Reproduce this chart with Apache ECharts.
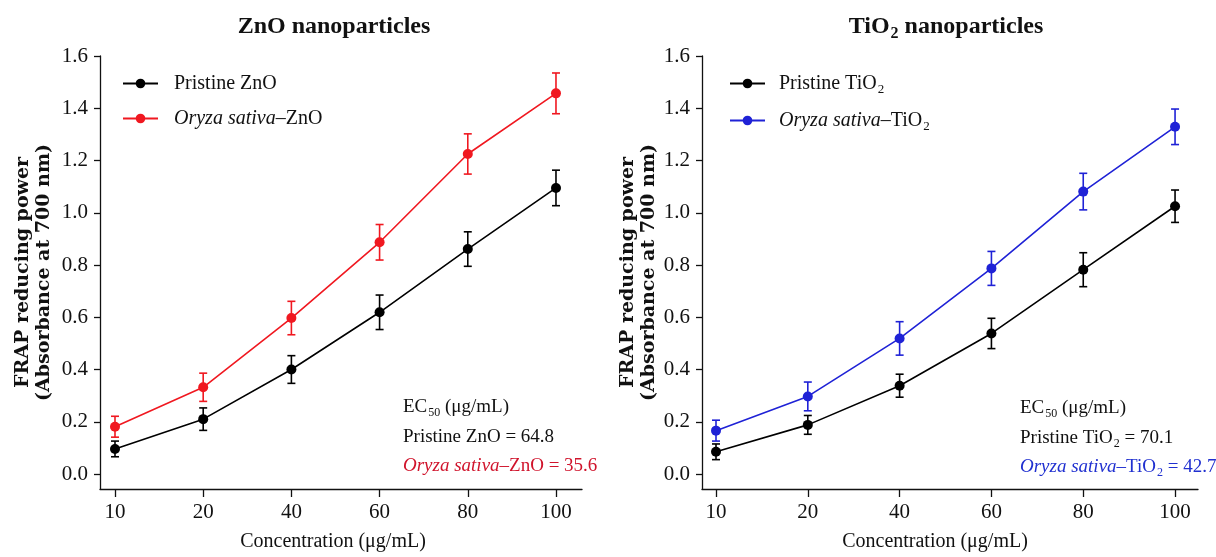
<!DOCTYPE html>
<html style="height: 100%">
<head>
    <meta charset="utf-8">
</head>
<body style="height: 100%; margin: 0; background: #fff">
<div id="container" style="width: 1216px; height: 557px"></div>
<script type="text/javascript" src="https://cdn.jsdelivr.net/npm/echarts@6/dist/echarts.min.js"></script>
<script type="text/javascript">
    // concentrations (ug/mL), drawn at equal spacing
    var categories = ['10', '20', '40', '60', '80', '100'];
    var yTicks = [0, 0.2, 0.4, 0.6, 0.8, 1.0, 1.2, 1.4, 1.6];

    // ZnO panel
    var znoPristine = [0.096, 0.21, 0.40, 0.619, 0.861, 1.095];
    var znoPristineErr = [0.03, 0.043, 0.053, 0.066, 0.066, 0.068];
    var znoOryza = [0.181, 0.332, 0.597, 0.887, 1.225, 1.457];
    var znoOryzaErr = [0.04, 0.054, 0.064, 0.068, 0.077, 0.078];

    // TiO2 panel
    var tioPristine = [0.085, 0.188, 0.338, 0.538, 0.782, 1.025];
    var tioPristineErr = [0.03, 0.036, 0.044, 0.058, 0.065, 0.062];
    var tioOryza = [0.166, 0.297, 0.519, 0.787, 1.081, 1.329];
    var tioOryzaErr = [0.04, 0.055, 0.064, 0.065, 0.07, 0.068];

    var SERIF = 'Liberation Serif';
    var BLACK = '#000';
    var RED = '#f01820';
    var BLUE = '#1f22d6';

    var legendLabels = {
        'Pristine ZnO': 'Pristine ZnO',
        'Oryza sativa-ZnO': '{i|Oryza sativa}–ZnO',
        'Pristine TiO2': 'Pristine TiO{s|2}',
        'Oryza sativa-TiO2': '{i|Oryza sativa}–TiO{s|2}'
    };

    var richBase = {
        n: {fontFamily: SERIF, fontSize: 20},
        i: {fontFamily: SERIF, fontSize: 20, fontStyle: 'italic'},
        s: {fontFamily: SERIF, fontSize: 13, padding: [12, 0, 0, 1]}
    };

    function pairs(arr) {
        return arr.map(function (v, i) { return [i, v]; });
    }
    function errData(vals, errs) {
        return vals.map(function (v, i) { return [i, v, errs[i]]; });
    }

    function errorSeries(vals, errs, color, idx) {
        return {
            type: 'custom',
            xAxisIndex: idx,
            yAxisIndex: idx,
            z: 1,
            silent: true,
            data: errData(vals, errs),
            renderItem: function (params, api) {
                var x = api.value(0), y = api.value(1), e = api.value(2);
                var lo = api.coord([x, y - e]);
                var hi = api.coord([x, y + e]);
                var w = 4;
                var st = {stroke: color, lineWidth: 1.6};
                return {
                    type: 'group',
                    children: [
                        {type: 'line', shape: {x1: lo[0], y1: lo[1], x2: hi[0], y2: hi[1]}, style: st},
                        {type: 'line', shape: {x1: lo[0] - w, y1: lo[1], x2: lo[0] + w, y2: lo[1]}, style: st},
                        {type: 'line', shape: {x1: hi[0] - w, y1: hi[1], x2: hi[0] + w, y2: hi[1]}, style: st}
                    ]
                };
            }
        };
    }

    function lineSeries(name, vals, color, idx) {
        return {
            name: name,
            type: 'line',
            xAxisIndex: idx,
            yAxisIndex: idx,
            z: 3,
            data: pairs(vals),
            symbol: 'circle',
            symbolSize: 10,
            itemStyle: {color: color},
            lineStyle: {color: color, width: 1.6}
        };
    }

    function xAxisFor(idx, min, max, shift) {
        return {
            type: 'value',
            gridIndex: idx,
            min: min,
            max: max,
            name: 'Concentration (μg/mL)',
            nameLocation: 'middle',
            nameGap: 43,
            nameTextStyle: {fontFamily: SERIF, fontSize: 20, color: '#111', padding: [0, shift, 0, 0]},
            splitLine: {show: false},
            axisLine: {show: true, onZero: false, lineStyle: {color: '#111', width: 1.3}},
            axisTick: {show: true, length: 8, customValues: [0, 1, 2, 3, 4, 5], lineStyle: {color: '#111', width: 1.3}},
            axisLabel: {
                customValues: [0, 1, 2, 3, 4, 5],
                margin: 13,
                fontFamily: SERIF,
                fontSize: 21,
                color: '#111',
                formatter: function (v) { return categories[Math.round(v)]; }
            }
        };
    }

    function yAxisFor(idx, gap) {
        return {
            type: 'value',
            gridIndex: idx,
            min: -0.0574,
            max: 1.6,
            name: 'FRAP reducing power\n(Absorbance at 700 nm)',
            nameLocation: 'middle',
            nameRotate: 90,
            nameGap: gap,
            nameTextStyle: {fontFamily: 'DejaVu Serif', fontWeight: 'bold', fontSize: 19, lineHeight: 21, color: '#111'},
            splitLine: {show: false},
            axisLine: {show: true, onZero: false, lineStyle: {color: '#111', width: 1.3}},
            axisTick: {show: true, length: 6, customValues: yTicks, lineStyle: {color: '#111', width: 1.3}},
            axisLabel: {
                customValues: yTicks,
                margin: 12,
                fontFamily: SERIF,
                fontSize: 21,
                color: '#111',
                formatter: function (v) { return v.toFixed(1); }
            }
        };
    }

    function legendFor(names, left, pad) {
        return {
            orient: 'vertical',
            left: left,
            top: 73,
            itemWidth: 35,
            itemHeight: 12,
            itemGap: 14,
            padding: 0,
            data: names,
            formatter: function (name) { return legendLabels[name]; },
            textStyle: {
                fontFamily: SERIF, fontSize: 20, color: '#111', lineHeight: 21,
                padding: [0, 0, 0, pad],
                rich: richBase
            }
        };
    }

    function noteText(x, y, text, color) {
        var rich = {
            n: {fontFamily: SERIF, fontSize: 19, fill: color},
            i: {fontFamily: SERIF, fontSize: 19, fontStyle: 'italic', fill: color},
            s: {fontFamily: SERIF, fontSize: 12, fill: color, padding: [11, 0, 0, 1]}
        };
        return {
            type: 'text',
            x: x,
            y: y,
            style: {text: text, rich: rich, fill: color, verticalAlign: 'middle', align: 'left'}
        };
    }

    var dom = document.getElementById('container');
    var myChart = echarts.init(dom, null, {renderer: 'canvas'});

    var option = {
        animation: false,
        backgroundColor: '#fff',
        title: [
            {
                text: 'ZnO nanoparticles',
                left: 334, top: 15, textAlign: 'center', padding: 0,
                textStyle: {fontFamily: SERIF, fontWeight: 'bold', fontSize: 24, color: '#111'}
            },
            {
                text: '{b|TiO}{bs|2}{b| nanoparticles}',
                left: 946, top: 12, textAlign: 'center', padding: 0,
                textStyle: {
                    fontFamily: SERIF, fontWeight: 'bold', fontSize: 24, color: '#111',
                    rich: {
                        b: {fontFamily: SERIF, fontWeight: 'bold', fontSize: 24, color: '#111'},
                        bs: {fontFamily: SERIF, fontWeight: 'bold', fontSize: 16, color: '#111', padding: [14, 0, 0, 1]}
                    }
                }
            }
        ],
        legend: [
            legendFor(['Pristine ZnO', 'Oryza sativa-ZnO'], 122, 11),
            legendFor(['Pristine TiO2', 'Oryza sativa-TiO2'], 729, 9)
        ],
        grid: [
            {left: 100, top: 56, width: 482, height: 433},
            {left: 702, top: 56, width: 496, height: 433}
        ],
        xAxis: [xAxisFor(0, -0.17, 5.295, 16), xAxisFor(1, -0.1525, 5.25, 30)],
        yAxis: [yAxisFor(0, 45), yAxisFor(1, 40)],
        series: [
            errorSeries(znoPristine, znoPristineErr, BLACK, 0),
            errorSeries(znoOryza, znoOryzaErr, RED, 0),
            lineSeries('Pristine ZnO', znoPristine, BLACK, 0),
            lineSeries('Oryza sativa-ZnO', znoOryza, RED, 0),
            errorSeries(tioPristine, tioPristineErr, BLACK, 1),
            errorSeries(tioOryza, tioOryzaErr, BLUE, 1),
            lineSeries('Pristine TiO2', tioPristine, BLACK, 1),
            lineSeries('Oryza sativa-TiO2', tioOryza, BLUE, 1)
        ],
        graphic: [
            noteText(403, 407, '{n|EC}{s|50}{n| (μg/mL)}', '#111'),
            noteText(403, 437, '{n|Pristine ZnO = 64.8}', '#111'),
            noteText(403, 466, '{i|Oryza sativa}{n|–ZnO = 35.6}', '#d0142c'),
            noteText(1020, 408, '{n|EC}{s|50}{n| (μg/mL)}', '#111'),
            noteText(1020, 438, '{n|Pristine TiO}{s|2}{n| = 70.1}', '#111'),
            noteText(1020, 467, '{i|Oryza sativa}{n|–TiO}{s|2}{n| = 42.7}', '#2030d0')
        ]
    };

    if (option && typeof option === 'object') {
        myChart.setOption(option, true);
    }
</script>
</body>
</html>
